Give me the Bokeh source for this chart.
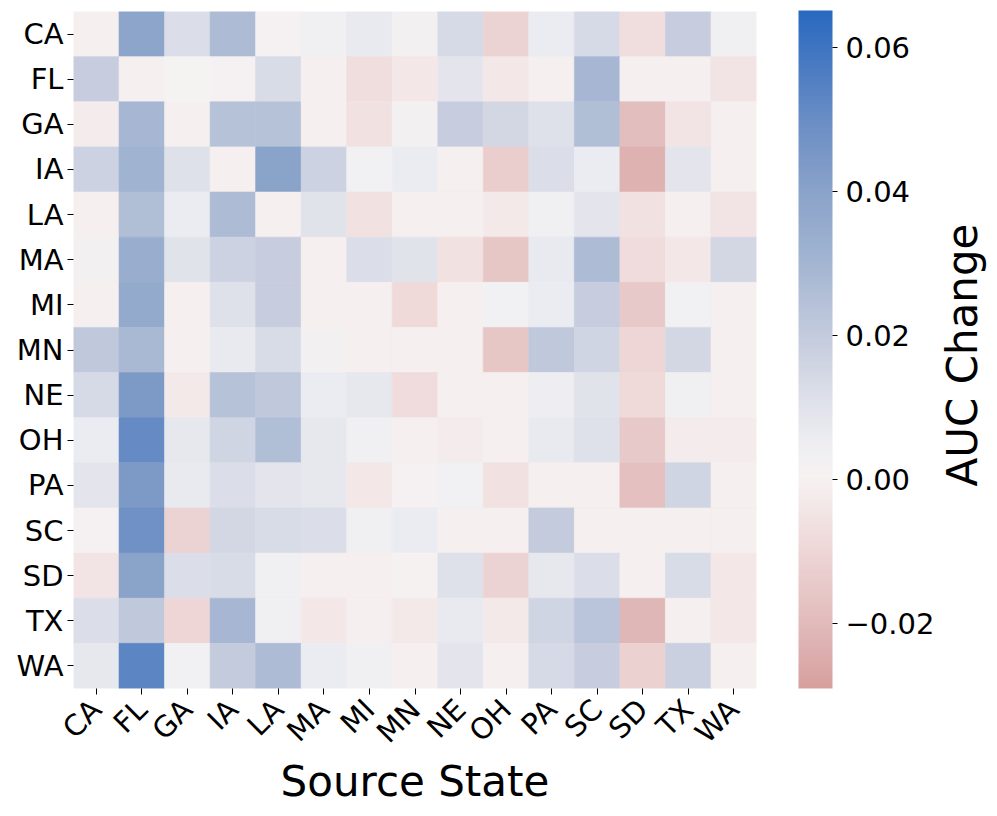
import math
import numpy as np
from bokeh.plotting import figure
from bokeh.layouts import row
from bokeh.models import (ColumnDataSource, LinearColorMapper, ColorBar, FixedTicker,
                          CustomJSTickFormatter, Range1d)
from bokeh.core.properties import value
from bokeh.transform import linear_cmap
from bokeh.embed import file_html
from bokeh.resources import INLINE

# ---------------- data ----------------
states = ["CA", "FL", "GA", "IA", "LA", "MA", "MI", "MN", "NE", "OH", "PA", "SC", "SD", "TX", "WA"]

# rows = target state, columns = source state (same order as `states`)
row_CA = [-0.001, 0.039, 0.012, 0.027, 0.001, 0.004, 0.007, 0.002, 0.014, -0.011, 0.006, 0.014, -0.007, 0.019, 0.004]
row_FL = [0.019, -0.001, 0.0005, 0.001, 0.013, -0.001, -0.007, -0.004, 0.009, -0.004, -0.001, 0.029, -0.001, -0.001, -0.005]
row_GA = [-0.002, 0.029, -0.001, 0.024, 0.024, -0.001, -0.006, 0.002, 0.019, 0.015, 0.011, 0.026, -0.019, -0.005, -0.001]
row_IA = [0.017, 0.031, 0.011, -0.001, 0.040, 0.017, 0.003, 0.006, -0.001, -0.013, 0.012, 0.006, -0.023, 0.009, -0.001]
row_LA = [-0.001, 0.026, 0.006, 0.027, -0.001, 0.010, -0.006, -0.001, -0.001, -0.003, 0.004, 0.009, -0.006, -0.001, -0.005]
row_MA = [0.002, 0.034, 0.010, 0.017, 0.019, -0.001, 0.012, 0.010, -0.006, -0.016, 0.007, 0.027, -0.008, -0.004, 0.015]
row_MI = [-0.001, 0.036, -0.001, 0.011, 0.019, -0.001, -0.001, -0.009, -0.001, 0.003, 0.006, 0.019, -0.015, 0.003, -0.001]
row_MN = [0.021, 0.028, -0.001, 0.007, 0.013, 0.002, -0.001, -0.001, -0.001, -0.016, 0.021, 0.016, -0.010, 0.015, -0.001]
row_NE = [0.014, 0.044, -0.003, 0.024, 0.021, 0.006, 0.008, -0.008, -0.001, -0.001, 0.005, 0.010, -0.009, 0.004, -0.001]
row_OH = [0.006, 0.051, 0.008, 0.016, 0.026, 0.008, 0.004, -0.001, -0.002, -0.001, 0.007, 0.011, -0.015, -0.002, -0.002]
row_PA = [0.009, 0.044, 0.007, 0.012, 0.009, 0.008, -0.004, 0.001, 0.003, -0.006, -0.001, -0.001, -0.018, 0.016, -0.001]
row_SC = [0.001, 0.048, -0.011, 0.015, 0.013, 0.012, 0.004, 0.006, -0.001, -0.001, 0.020, -0.001, -0.001, -0.001, -0.001]
row_SD = [-0.005, 0.040, 0.012, 0.013, 0.004, -0.001, -0.001, 0.000, 0.011, -0.011, 0.008, 0.012, -0.001, 0.013, -0.004]
row_TX = [0.012, 0.021, -0.010, 0.029, 0.004, -0.004, -0.001, -0.003, 0.007, -0.003, 0.016, 0.023, -0.021, -0.001, -0.004]
row_WA = [0.008, 0.053, 0.003, 0.020, 0.027, 0.006, 0.004, -0.001, 0.009, -0.001, 0.014, 0.019, -0.012, 0.018, -0.001]

rows = [row_CA, row_FL, row_GA, row_IA, row_LA, row_MA, row_MI, row_MN,
        row_NE, row_OH, row_PA, row_SC, row_SD, row_TX, row_WA]

cbar_low, cbar_high = -0.029, 0.0651
cbar_ticks = [-0.02, 0.0, 0.02, 0.04, 0.06]
cbar_title = "AUC Change"
x_title = "Source State"

# ---------------- colour map (diverging, centred at 0) ----------------
anchor_v = [-0.029, -0.02, -0.01, 0.0, 0.005, 0.01, 0.02, 0.03, 0.04, 0.05, 0.0651]
anchor_c = ["#d7a09f", "#e2bbbb", "#eed6d6", "#f6f2f2", "#eeeef2", "#e1e3eb",
            "#c4cbdd", "#a3b5d2", "#8aa3c9", "#6a8dc4", "#2a69c0"]

def hex2rgb(h):
    return [int(h[i:i + 2], 16) for i in (1, 3, 5)]

rgb = np.array([hex2rgb(c) for c in anchor_c], dtype=float)
vs = np.linspace(cbar_low, cbar_high, 256)
palette = []
for v in vs:
    r = np.interp(v, anchor_v, rgb[:, 0])
    g = np.interp(v, anchor_v, rgb[:, 1])
    b = np.interp(v, anchor_v, rgb[:, 2])
    palette.append("#%02x%02x%02x" % (int(round(r)), int(round(g)), int(round(b))))

xs, ys, vals = [], [], []
for target, rvals in zip(states, rows):
    for source, v in zip(states, rvals):
        xs.append(source)
        ys.append(target)
        vals.append(v)
src = ColumnDataSource(dict(x=xs, y=ys, val=vals))

FONT = "DejaVu Sans"
TOTAL_H = 808

p = figure(x_range=states, y_range=list(reversed(states)),
           frame_width=683, frame_height=677,
           min_border_left=73, min_border_right=179, min_border_top=11, min_border_bottom=120,
           output_backend="svg", toolbar_location=None, tools="")

cmap = linear_cmap("val", palette, cbar_low, cbar_high)
p.rect(x="x", y="y", width=1, height=1, source=src,
       fill_color=cmap, line_color=cmap, line_width=0.6)

p.grid.grid_line_color = None
p.outline_line_color = None
p.axis.axis_line_color = None
p.axis.major_tick_line_color = "black"
p.axis.major_tick_out = 6
p.axis.major_tick_in = 0
p.axis.major_label_text_font = FONT
p.axis.major_label_text_font_size = "29px"
p.axis.major_label_text_color = "black"
p.yaxis.major_label_standoff = 4
p.xaxis.major_label_standoff = 10
p.xaxis.major_label_orientation = math.pi / 4
p.xaxis.axis_label = x_title
p.xaxis.axis_label_text_font = FONT
p.xaxis.axis_label_text_font_size = "42px"
p.xaxis.axis_label_text_font_style = "normal"
p.xaxis.axis_label_text_color = "black"
p.xaxis.axis_label_standoff = -8

mapper = LinearColorMapper(palette=palette, low=cbar_low, high=cbar_high)
cb = ColorBar(color_mapper=mapper, width=34, height=678,
              ticker=FixedTicker(ticks=cbar_ticks),
              formatter=CustomJSTickFormatter(code="return (tick < -1e-9 ? '\u2212' : '') + Math.abs(tick).toFixed(2);"),
              major_label_text_font=FONT, major_label_text_font_size="29px",
              major_label_text_color="black",
              major_tick_in=0, major_tick_out=5, major_tick_line_color="black",
              label_standoff=8, bar_line_color=None, border_line_color=None,
              background_fill_color=None, padding=0, margin=0,
              location=(42, 0))
p.add_layout(cb, "right")

# narrow companion figure holding the colour-bar title (rotated text)
p2 = figure(width=56, height=TOTAL_H, x_range=Range1d(0, 56), y_range=Range1d(0, TOTAL_H),
            min_border=0, output_backend="svg", toolbar_location=None, tools="")
p2.axis.visible = False
p2.grid.grid_line_color = None
p2.outline_line_color = None
p2.text(x=[25], y=[398], text=[cbar_title], angle=math.pi / 2,
        text_align="center", text_baseline="middle",
        text_font=value(FONT), text_font_size="42px", text_color="black")

layout = row(p, p2, spacing=0)
open("out.html", "w").write(file_html(layout, INLINE))
